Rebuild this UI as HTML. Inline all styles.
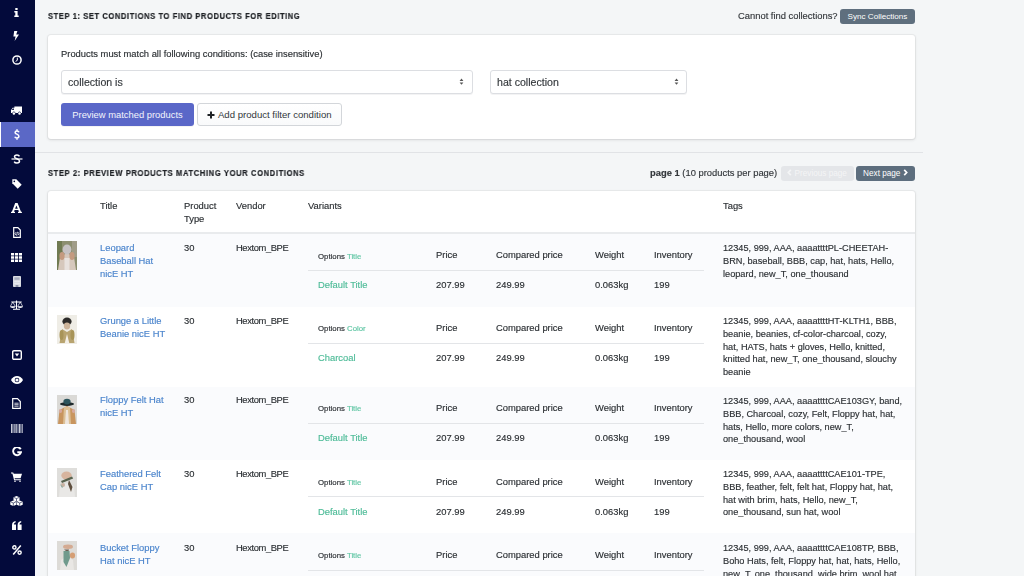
<!DOCTYPE html><html><head><meta charset="utf-8"><style>
*{margin:0;padding:0;box-sizing:border-box}
html,body{width:1024px;height:576px;overflow:hidden}
body{-webkit-text-stroke:0.15px currentColor;background:#f4f6f7;font-family:"Liberation Sans",sans-serif;color:#2b2f33;position:relative}
.abs{position:absolute;white-space:nowrap;will-change:transform}
#side{position:absolute;left:0;top:0;width:35px;height:576px;background:#030a3b}
#strip{position:absolute;left:35px;top:0;width:5px;height:576px;background:#f4f5fa}
.ic{position:absolute;left:0;width:33.6px;display:flex;align-items:center;justify-content:center}
.ic svg{display:block}
.card{position:absolute;background:#fff;border-radius:3px;box-shadow:0 0 0 1px rgba(63,63,68,.05),0 1px 3px 0 rgba(63,63,68,.15)}
.h{margin-top:0.5px;font-weight:bold;font-size:8.8px;letter-spacing:0.68px;transform:scaleX(0.86);transform-origin:0 0;-webkit-text-stroke:0.2px #1f2226;color:#1f2226}
.t{font-size:9.6px;color:#2b2f33}
.sel{position:absolute;background:#fff;border:1px solid #dcdee2;border-radius:3px;box-shadow:0 1px 0 rgba(22,29,37,.05)}
.btn{position:absolute;border-radius:3px;text-align:center;white-space:nowrap;-webkit-text-stroke:0}
.link{color:#3f7fcf}
.grn{color:#50b89a}
.thumb{position:absolute;width:20px;height:29px;overflow:hidden}.thumb svg{filter:blur(0.6px)}
</style></head><body>
<div id="side"></div><div id="strip"></div>
<div style="position:absolute;left:0;top:122px;width:35px;height:25px;background:#5b68c6"></div>
<div style="position:absolute;left:0;top:122px;width:1.3px;height:25px;background:#fff"></div>
<div class="ic" style="top:4.4px;height:16px"><svg width="5" height="9" viewBox="0 0 5 9"><rect x="1.3" y="0" width="2.3" height="2" fill="#fff"/><path d="M0.3 3h3.3v4.6h1.1V9H0.3V7.6h1V4.4h-1z" fill="#fff"/></svg></div>
<div class="ic" style="top:28.4px;height:16px"><svg width="7" height="10" viewBox="0 0 7 10"><path d="M1.2 0h3.2L3.2 3.6H6L1.6 10l1-4.6H0.4z" fill="#fff"/></svg></div>
<div class="ic" style="top:52.4px;height:16px"><svg width="10" height="10" viewBox="0 0 10 10"><circle cx="5" cy="5" r="4.1" fill="none" stroke="#fff" stroke-width="1.5"/><path d="M5.3 2.6v2.7L3.6 6.4" fill="none" stroke="#fff" stroke-width="1"/></svg></div>
<div class="ic" style="top:102.4px;height:16px"><svg width="11" height="9" viewBox="0 0 11 9"><path d="M3.4 0.4H11v6.6H10a1.5 1.5 0 0 0-3 0H4.4a1.5 1.5 0 0 0-3 0H0V4.2L1.6 1.8h1.8z" fill="#fff"/><circle cx="2.9" cy="7.4" r="1.25" fill="#fff"/><circle cx="8.5" cy="7.4" r="1.25" fill="#fff"/><path d="M0.8 4.1L1.9 2.5h1v1.6z" fill="#030a3b"/></svg></div>
<div class="ic" style="top:126.4px;height:16px"><svg width="6" height="11" viewBox="0 0 6 11"><path d="M5 3.2C4.7 2.4 3.9 2 3 2 1.9 2 1.1 2.6 1.1 3.4c0 2.2 3.8 1.3 3.8 3.9 0 1-0.8 1.7-2 1.7-1 0-1.8-0.5-2.1-1.3M3 0.2v1.8M3 9v1.8" fill="none" stroke="#fff" stroke-width="1.5"/></svg></div>
<div class="ic" style="top:151.4px;height:16px"><svg width="12" height="10" viewBox="0 0 12 10"><path d="M8.4 2.4C8 1.4 7.1 1 6 1 4.6 1 3.5 1.6 3.5 2.8c0 2.5 5 1.5 5 4.3 0 1.2-1 2-2.6 2-1.3 0-2.3-.6-2.7-1.5" fill="none" stroke="#fff" stroke-width="1.5"/><path d="M0.5 5h11" stroke="#fff" stroke-width="1.2"/></svg></div>
<div class="ic" style="top:176.4px;height:16px"><svg width="10" height="10" viewBox="0 0 10 10"><path d="M0.3 0.3h4l5.4 5.4-4 4L0.3 4.3z" fill="#fff"/><circle cx="2.3" cy="2.3" r="0.85" fill="#030a3b"/></svg></div>
<div class="ic" style="top:200.4px;height:16px"><svg width="11" height="10" viewBox="0 0 11 10"><path d="M4.2 0h2.4l3.4 8.8h0.9V10H7V8.8h1L7.3 7H3.6L3 8.8h1V10H0V8.8h0.9zM5.4 2.4L4.1 5.7h2.7z" fill="#fff"/></svg></div>
<div class="ic" style="top:224.4px;height:16px"><svg width="8" height="11" viewBox="0 0 8 11"><path d="M0.7 0.7h4.2L7.3 3.1v7.2H0.7z" fill="none" stroke="#fff" stroke-width="1.2"/><path d="M3 5.2L2 6.7 3 8.2M5 5.2l1 1.5L5 8.2M4.4 4.8L3.6 8.6" fill="none" stroke="#fff" stroke-width="0.8"/></svg></div>
<div class="ic" style="top:249.4px;height:16px"><svg width="11" height="9" viewBox="0 0 11 9"><g fill="#fff"><rect x="0" y="0" width="3.1" height="2.5"/><rect x="3.95" y="0" width="3.1" height="2.5"/><rect x="7.9" y="0" width="3.1" height="2.5"/><rect x="0" y="3.25" width="3.1" height="2.5"/><rect x="3.95" y="3.25" width="3.1" height="2.5"/><rect x="7.9" y="3.25" width="3.1" height="2.5"/><rect x="0" y="6.5" width="3.1" height="2.5"/><rect x="3.95" y="6.5" width="3.1" height="2.5"/><rect x="7.9" y="6.5" width="3.1" height="2.5"/></g></svg></div>
<div class="ic" style="top:273.4px;height:16px"><svg width="8" height="11" viewBox="0 0 8 11"><rect x="0" y="0" width="8" height="11" rx="0.8" fill="#d9dbe2"/><rect x="1.4" y="1.4" width="5.2" height="2.4" fill="#a5aabb"/><g fill="#eceef2"><rect x="1.4" y="5" width="1.4" height="1.2"/><rect x="3.3" y="5" width="1.4" height="1.2"/><rect x="5.2" y="5" width="1.4" height="1.2"/><rect x="1.4" y="7" width="1.4" height="1.2"/><rect x="3.3" y="7" width="1.4" height="1.2"/><rect x="5.2" y="7" width="1.4" height="1.2"/></g><rect x="2.6" y="9" width="2.8" height="2" fill="#8f95a8"/></svg></div>
<div class="ic" style="top:297.4px;height:16px"><svg width="13" height="10" viewBox="0 0 13 10"><path d="M6.5 0.5v8.5M3 9.3h7M1.3 2h10.4" stroke="#fff" stroke-width="1.1" fill="none"/><path d="M2.8 2L0.3 6.4M2.8 2l2.5 4.4M10.2 2L7.7 6.4M10.2 2l2.5 4.4" stroke="#fff" stroke-width="0.7" fill="none"/><path d="M0 6.3h5.6a2.8 1.8 0 0 1-5.6 0zM7.4 6.3h5.6a2.8 1.8 0 0 1-5.6 0z" fill="#fff"/></svg></div>
<div class="ic" style="top:347.0px;height:16px"><svg width="10" height="10" viewBox="0 0 10 10"><rect x="0.7" y="0.7" width="8.6" height="8.6" rx="1.2" fill="none" stroke="#fff" stroke-width="1.4"/><path d="M2.8 3.6h4.4L5 6.4z" fill="#fff"/></svg></div>
<div class="ic" style="top:372.09999999999997px;height:16px"><svg width="12" height="8" viewBox="0 0 12 8"><path d="M0 4C1.4 1.4 3.6 0 6 0s4.6 1.4 6 4c-1.4 2.6-3.6 4-6 4S1.4 6.6 0 4z" fill="#fff"/><circle cx="6" cy="4" r="2.3" fill="#030a3b"/><circle cx="6" cy="4" r="1.6" fill="#fff"/></svg></div>
<div class="ic" style="top:395.4px;height:16px"><svg width="9" height="11" viewBox="0 0 9 11"><path d="M0.7 0.7h4.8L8.3 3.5v6.8H0.7z" fill="none" stroke="#fff" stroke-width="1.2"/><path d="M2.4 5.2h4.2M2.4 6.7h4.2M2.4 8.2h4.2" stroke="#fff" stroke-width="0.8"/></svg></div>
<div class="ic" style="top:420.4px;height:16px"><svg width="12" height="9" viewBox="0 0 12 9"><g fill="#dfe1ea"><rect x="0" y="0" width="0.9" height="9"/><rect x="1.5" y="0" width="0.5" height="9"/><rect x="2.6" y="0" width="1" height="9"/><rect x="4.2" y="0" width="0.5" height="9"/><rect x="5.3" y="0" width="0.9" height="9"/><rect x="6.8" y="0" width="0.5" height="9"/><rect x="7.9" y="0" width="1" height="9"/><rect x="9.5" y="0" width="0.5" height="9"/><rect x="10.6" y="0" width="0.5" height="9"/><rect x="11.4" y="0" width="0.6" height="9"/></g></svg></div>
<div class="ic" style="top:444.4px;height:16px"><svg width="10" height="10" viewBox="0 0 10 10"><path d="M8.7 2.3A4 4 0 1 0 9 5.3H5.3" fill="none" stroke="#fff" stroke-width="1.9"/></svg></div>
<div class="ic" style="top:469.4px;height:16px"><svg width="11" height="10" viewBox="0 0 11 10"><path d="M0 0.4h2.2l0.5 1.4H11L9.6 6.2H3.6l0.3 1H9.8v1.1H3.1L1.4 1.5H0z" fill="#fff"/><circle cx="4" cy="9.2" r="0.8" fill="#fff"/><circle cx="9" cy="9.2" r="0.8" fill="#fff"/></svg></div>
<div class="ic" style="top:493.4px;height:16px"><svg width="13" height="10" viewBox="0 0 13 10"><g fill="#fff"><path d="M6.5 0l3 1.3v3.1L6.5 5.7 3.5 4.4V1.3z"/><path d="M3.3 4.4l3 1.3v3.1L3.3 10 0.3 8.8V5.7z"/><path d="M9.7 4.4l3 1.3v3.1L9.7 10 6.7 8.8V5.7z"/></g><g fill="none" stroke="#030a3b" stroke-width="0.6"><path d="M3.8 1.4l2.7 1.2 2.7-1.2M6.5 2.6v3"/><path d="M0.6 5.8l2.7 1.2 2.7-1.2M3.3 7v3"/><path d="M7 5.8l2.7 1.2 2.7-1.2M9.7 7v3"/></g></svg></div>
<div class="ic" style="top:517.4px;height:16px"><svg width="10" height="9" viewBox="0 0 10 9"><path d="M0 4.2C0 1.6 1.4 0.3 3.6 0v1.5C2.4 1.8 1.9 2.6 1.9 3.6H4V9H0zM5.6 4.2C5.6 1.6 7 0.3 9.2 0v1.5C8 1.8 7.5 2.6 7.5 3.6h2.1V9H5.6z" fill="#fff"/></svg></div>
<div class="ic" style="top:542.4px;height:16px"><svg width="10" height="10" viewBox="0 0 10 10"><circle cx="2.4" cy="2.4" r="1.6" fill="none" stroke="#fff" stroke-width="1.4"/><circle cx="7.6" cy="7.6" r="1.6" fill="none" stroke="#fff" stroke-width="1.4"/><path d="M8.8 0.6L1.2 9.4" stroke="#fff" stroke-width="1.5"/></svg></div>
<div class="abs h" style="left:48px;top:10px;line-height:10px">STEP 1: SET CONDITIONS TO FIND PRODUCTS FOR EDITING</div>
<div class="abs t" style="right:186.5px;top:10px;line-height:12px;font-size:9.4px;color:#33373b">Cannot find collections?</div>
<div class="btn" style="left:840px;top:9px;width:75px;height:15px;background:#5f6f7e;color:#fff;font-size:8.1px;line-height:16px">Sync Collections</div>
<div class="card" style="left:48px;top:35px;width:867px;height:104px"></div>
<div class="abs t" style="left:61px;top:48px;line-height:12px;font-size:9.4px">Products must match all following conditions: (case insensitive)</div>
<div class="sel" style="left:61px;top:70px;width:412px;height:24px"></div>
<div class="abs" style="left:68px;top:74.5px;line-height:14px;font-size:10.6px;color:#33373b">collection is</div>
<div class="abs" style="left:459.2px;top:78.2px;line-height:8px"><svg width="5" height="8" viewBox="0 0 5 8" style="display:block"><path d="M0.6 2.9L2.5 0.6 4.4 2.9zM0.6 4.4l1.9 2.3 1.9-2.3z" fill="#555"/></svg></div>
<div class="sel" style="left:490px;top:70px;width:197px;height:24px"></div>
<div class="abs" style="left:497px;top:74.5px;line-height:14px;font-size:10.6px;color:#33373b">hat collection</div>
<div class="abs" style="left:674.2px;top:78.2px;line-height:8px"><svg width="5" height="8" viewBox="0 0 5 8" style="display:block"><path d="M0.6 2.9L2.5 0.6 4.4 2.9zM0.6 4.4l1.9 2.3 1.9-2.3z" fill="#555"/></svg></div>
<div class="btn" style="left:61px;top:103px;width:133px;height:23px;background:#5a67c8;color:#f4f5fc;font-size:9.4px;line-height:24px;box-shadow:0 1px 0 0 rgba(22,29,37,.05)">Preview matched products</div>
<div class="btn" style="left:197px;top:103px;width:145px;height:23px;background:linear-gradient(#fff,#f9fafb);border:1px solid #d3d6da;color:#33373b;font-size:9.6px;line-height:21px"><svg width="8" height="8" viewBox="0 0 8 8" style="display:inline-block;vertical-align:-0.5px;margin-right:2.5px"><path d="M4 0.5v7M0.5 4h7" stroke="#1f2226" stroke-width="2"/></svg>Add product filter condition</div>
<div style="position:absolute;left:35px;top:152px;width:888px;height:1px;background:#e1e3e6"></div>
<div class="abs h" style="left:48px;top:167px;line-height:10px;letter-spacing:0.74px">STEP 2: PREVIEW PRODUCTS MATCHING YOUR CONDITIONS</div>
<div class="abs t" style="right:246.5px;top:167px;line-height:12.65px;font-size:9.4px;color:#33373b"><b>page 1</b> (10 products per page)</div>
<div class="btn" style="left:780.5px;top:165.5px;width:73px;height:15px;background:#e4e6e9;color:#f4f5f6;font-size:8.2px;line-height:15px"><svg width="5" height="7" viewBox="0 0 5 7" style="display:inline-block;vertical-align:-0.5px;margin-right:2.5px"><path d="M3.8 0.8L1.3 3.5l2.5 2.7" fill="none" stroke="#f4f5f6" stroke-width="1.7"/></svg>Previous page</div>
<div class="btn" style="left:856px;top:165.5px;width:59px;height:15px;background:#5d6e7e;color:#fff;font-size:8.2px;line-height:15px">Next page<svg width="5" height="7" viewBox="0 0 5 7" style="display:inline-block;vertical-align:-0.5px;margin-left:2.5px"><path d="M1.2 0.8L3.7 3.5 1.2 6.2" fill="none" stroke="#fff" stroke-width="1.7"/></svg></div>
<div class="card" style="left:48px;top:191px;width:867px;height:420px"></div>
<div class="abs" style="left:100px;top:199.70px;font-size:9.4px;line-height:12.8px;color:#2b2f33;">Title</div>
<div class="abs" style="left:183.7px;top:198.80px;font-size:9.4px;line-height:12.8px;color:#2b2f33;line-height:13.2px">Product<br>Type</div>
<div class="abs" style="left:235.6px;top:199.70px;font-size:9.4px;line-height:12.8px;color:#2b2f33;">Vendor</div>
<div class="abs" style="left:308px;top:199.70px;font-size:9.4px;line-height:12.8px;color:#2b2f33;">Variants</div>
<div class="abs" style="left:723.0px;top:199.70px;font-size:9.4px;line-height:12.8px;color:#2b2f33;">Tags</div>
<div style="position:absolute;left:48px;top:232px;width:867px;height:2px;background:#e9ebed"></div>
<div style="position:absolute;left:48px;top:234px;width:867px;height:72.7px;background:#fafbfd"></div>
<div style="position:absolute;left:48px;top:386.5px;width:867px;height:73.1px;background:#fafbfd"></div>
<div style="position:absolute;left:48px;top:532.7px;width:867px;height:43.3px;background:#fafbfd"></div>
<div class="thumb" style="left:57px;top:240.9px"><svg width="20" height="29" viewBox="0 0 20 29"><rect width="20" height="29" fill="#8c8e70"/><rect x="0" y="0" width="5" height="29" fill="#707a52"/><rect x="15" y="0" width="5" height="16" fill="#a09c88"/><path d="M1 29l2-13 7-4 7 4 2 13z" fill="#d6c8bc"/><ellipse cx="10" cy="8.5" rx="4.4" ry="5" fill="#c6c2c4"/><ellipse cx="5" cy="15" rx="2.6" ry="4" fill="#c49a80"/><ellipse cx="15" cy="15" rx="2.6" ry="4" fill="#c49a80"/><rect x="7.5" y="17" width="5" height="12" fill="#e8e2de"/></svg></div>
<div class="abs" style="left:100px;top:241.70px;font-size:9.4px;line-height:12.8px;color:#4a84cc;">Leopard<br>Baseball Hat<br>nicE HT</div>
<div class="abs" style="left:183.7px;top:241.70px;font-size:9.4px;line-height:12.8px;color:#2b2f33;">30</div>
<div class="abs" style="left:235.6px;top:241.70px;font-size:9.4px;line-height:12.8px;color:#2b2f33;letter-spacing:-0.4px">Hextom_BPE</div>
<div class="abs" style="left:317.8px;top:250.52px;font-size:7.8px;line-height:12.8px;color:#2b2f33;">Options <span style="color:#62c6a5">Title</span></div>
<div class="abs" style="left:436.3px;top:249.40px;font-size:9.4px;line-height:12.8px;color:#2b2f33;">Price</div>
<div class="abs" style="left:495.8px;top:249.40px;font-size:9.4px;line-height:12.8px;color:#2b2f33;">Compared price</div>
<div class="abs" style="left:594.5px;top:249.40px;font-size:9.4px;line-height:12.8px;color:#2b2f33;">Weight</div>
<div class="abs" style="left:653.7px;top:249.40px;font-size:9.4px;line-height:12.8px;color:#2b2f33;">Inventory</div>
<div style="position:absolute;left:308px;top:270.0px;width:396px;height:1px;background:#e3e5e8"></div>
<div class="abs" style="left:317.8px;top:279.10px;font-size:9.4px;line-height:12.8px;color:#4dbb97;">Default Title</div>
<div class="abs" style="left:436.3px;top:279.10px;font-size:9.4px;line-height:12.8px;color:#2b2f33;">207.99</div>
<div class="abs" style="left:495.8px;top:279.10px;font-size:9.4px;line-height:12.8px;color:#2b2f33;">249.99</div>
<div class="abs" style="left:594.5px;top:279.10px;font-size:9.4px;line-height:12.8px;color:#2b2f33;">0.063kg</div>
<div class="abs" style="left:653.7px;top:279.10px;font-size:9.4px;line-height:12.8px;color:#2b2f33;">199</div>
<div class="abs" style="left:723.0px;top:241.84px;font-size:9.2px;line-height:12.8px;color:#2b2f33;">12345, 999, AAA, aaaattttPL-CHEETAH-<br>BRN, baseball, BBB, cap, hat, hats, Hello,<br>leopard, new_T, one_thousand</div>
<div class="thumb" style="left:57px;top:314.5px"><svg width="20" height="29" viewBox="0 0 20 29"><rect width="20" height="29" fill="#efede6"/><ellipse cx="10" cy="6.5" rx="4.6" ry="4" fill="#2c2a28"/><ellipse cx="10" cy="11" rx="3.2" ry="3.4" fill="#cdb49a"/><path d="M2.5 28l2.5-14 5 3 5-3 2.5 14z" fill="#b8a470"/><path d="M7.5 29l2.5-10 2.5 10z" fill="#f4f0e8"/><ellipse cx="4.5" cy="20" rx="2" ry="5" fill="#a89458"/><ellipse cx="15.5" cy="20" rx="2" ry="5" fill="#a89458"/></svg></div>
<div class="abs" style="left:100px;top:314.50px;font-size:9.4px;line-height:12.8px;color:#4a84cc;">Grunge a Little<br>Beanie nicE HT</div>
<div class="abs" style="left:183.7px;top:314.50px;font-size:9.4px;line-height:12.8px;color:#2b2f33;">30</div>
<div class="abs" style="left:235.6px;top:314.50px;font-size:9.4px;line-height:12.8px;color:#2b2f33;letter-spacing:-0.4px">Hextom_BPE</div>
<div class="abs" style="left:317.8px;top:323.32px;font-size:7.8px;line-height:12.8px;color:#2b2f33;">Options <span style="color:#62c6a5">Color</span></div>
<div class="abs" style="left:436.3px;top:322.20px;font-size:9.4px;line-height:12.8px;color:#2b2f33;">Price</div>
<div class="abs" style="left:495.8px;top:322.20px;font-size:9.4px;line-height:12.8px;color:#2b2f33;">Compared price</div>
<div class="abs" style="left:594.5px;top:322.20px;font-size:9.4px;line-height:12.8px;color:#2b2f33;">Weight</div>
<div class="abs" style="left:653.7px;top:322.20px;font-size:9.4px;line-height:12.8px;color:#2b2f33;">Inventory</div>
<div style="position:absolute;left:308px;top:342.8px;width:396px;height:1px;background:#e3e5e8"></div>
<div class="abs" style="left:317.8px;top:351.90px;font-size:9.4px;line-height:12.8px;color:#4dbb97;">Charcoal</div>
<div class="abs" style="left:436.3px;top:351.90px;font-size:9.4px;line-height:12.8px;color:#2b2f33;">207.99</div>
<div class="abs" style="left:495.8px;top:351.90px;font-size:9.4px;line-height:12.8px;color:#2b2f33;">249.99</div>
<div class="abs" style="left:594.5px;top:351.90px;font-size:9.4px;line-height:12.8px;color:#2b2f33;">0.063kg</div>
<div class="abs" style="left:653.7px;top:351.90px;font-size:9.4px;line-height:12.8px;color:#2b2f33;">199</div>
<div class="abs" style="left:723.0px;top:314.64px;font-size:9.2px;line-height:12.8px;color:#2b2f33;">12345, 999, AAA, aaaattttHT-KLTH1, BBB,<br>beanie, beanies, cf-color-charcoal, cozy,<br>hat, HATS, hats + gloves, Hello, knitted,<br>knitted hat, new_T, one_thousand, slouchy<br>beanie</div>
<div class="thumb" style="left:57px;top:394.5px"><svg width="20" height="29" viewBox="0 0 20 29"><rect width="20" height="29" fill="#dad9d6"/><path d="M1 29l1.5-14 7.5-4 7.5 4 1.5 14z" fill="#c8955f"/><path d="M6 29l1-17h6l1 17z" fill="#dcc096"/><path d="M8 29l1-14h2l1 14z" fill="#efe6de"/><ellipse cx="10" cy="9" rx="7" ry="1.9" fill="#1e2a2c"/><ellipse cx="10" cy="6.6" rx="3.6" ry="2.8" fill="#2c545c"/><ellipse cx="3.5" cy="16" rx="1.6" ry="2" fill="#d6a9a0"/><ellipse cx="16.5" cy="16" rx="1.6" ry="2" fill="#d6a9a0"/></svg></div>
<div class="abs" style="left:100px;top:394.40px;font-size:9.4px;line-height:12.8px;color:#4a84cc;">Floppy Felt Hat<br>nicE HT</div>
<div class="abs" style="left:183.7px;top:394.40px;font-size:9.4px;line-height:12.8px;color:#2b2f33;">30</div>
<div class="abs" style="left:235.6px;top:394.40px;font-size:9.4px;line-height:12.8px;color:#2b2f33;letter-spacing:-0.4px">Hextom_BPE</div>
<div class="abs" style="left:317.8px;top:403.22px;font-size:7.8px;line-height:12.8px;color:#2b2f33;">Options <span style="color:#62c6a5">Title</span></div>
<div class="abs" style="left:436.3px;top:402.10px;font-size:9.4px;line-height:12.8px;color:#2b2f33;">Price</div>
<div class="abs" style="left:495.8px;top:402.10px;font-size:9.4px;line-height:12.8px;color:#2b2f33;">Compared price</div>
<div class="abs" style="left:594.5px;top:402.10px;font-size:9.4px;line-height:12.8px;color:#2b2f33;">Weight</div>
<div class="abs" style="left:653.7px;top:402.10px;font-size:9.4px;line-height:12.8px;color:#2b2f33;">Inventory</div>
<div style="position:absolute;left:308px;top:422.7px;width:396px;height:1px;background:#e3e5e8"></div>
<div class="abs" style="left:317.8px;top:431.80px;font-size:9.4px;line-height:12.8px;color:#4dbb97;">Default Title</div>
<div class="abs" style="left:436.3px;top:431.80px;font-size:9.4px;line-height:12.8px;color:#2b2f33;">207.99</div>
<div class="abs" style="left:495.8px;top:431.80px;font-size:9.4px;line-height:12.8px;color:#2b2f33;">249.99</div>
<div class="abs" style="left:594.5px;top:431.80px;font-size:9.4px;line-height:12.8px;color:#2b2f33;">0.063kg</div>
<div class="abs" style="left:653.7px;top:431.80px;font-size:9.4px;line-height:12.8px;color:#2b2f33;">199</div>
<div class="abs" style="left:723.0px;top:394.54px;font-size:9.2px;line-height:12.8px;color:#2b2f33;">12345, 999, AAA, aaaattttCAE103GY, band,<br>BBB, Charcoal, cozy, Felt, Floppy hat, hat,<br>hats, Hello, more colors, new_T,<br>one_thousand, wool</div>
<div class="thumb" style="left:57px;top:467.9px"><svg width="20" height="29" viewBox="0 0 20 29"><rect width="20" height="29" fill="#dfdedb"/><path d="M2 29l1-11 7-3 7 3 1 11z" fill="#e9e8e6"/><ellipse cx="9.5" cy="7.5" rx="5.2" ry="4" fill="#d7b49e"/><path d="M4 13L15 8.5l1.2 2L5 15z" fill="#57624e"/><path d="M12 12l3.5 7-1.5 5-3-8z" fill="#5e4e3e"/><ellipse cx="6" cy="17" rx="2" ry="2" fill="#c8b0a0"/><path d="M3 16l2 4 1-1z" fill="#7fa39a"/></svg></div>
<div class="abs" style="left:100px;top:468.10px;font-size:9.4px;line-height:12.8px;color:#4a84cc;">Feathered Felt<br>Cap nicE HT</div>
<div class="abs" style="left:183.7px;top:468.10px;font-size:9.4px;line-height:12.8px;color:#2b2f33;">30</div>
<div class="abs" style="left:235.6px;top:468.10px;font-size:9.4px;line-height:12.8px;color:#2b2f33;letter-spacing:-0.4px">Hextom_BPE</div>
<div class="abs" style="left:317.8px;top:476.92px;font-size:7.8px;line-height:12.8px;color:#2b2f33;">Options <span style="color:#62c6a5">Title</span></div>
<div class="abs" style="left:436.3px;top:475.80px;font-size:9.4px;line-height:12.8px;color:#2b2f33;">Price</div>
<div class="abs" style="left:495.8px;top:475.80px;font-size:9.4px;line-height:12.8px;color:#2b2f33;">Compared price</div>
<div class="abs" style="left:594.5px;top:475.80px;font-size:9.4px;line-height:12.8px;color:#2b2f33;">Weight</div>
<div class="abs" style="left:653.7px;top:475.80px;font-size:9.4px;line-height:12.8px;color:#2b2f33;">Inventory</div>
<div style="position:absolute;left:308px;top:496.4px;width:396px;height:1px;background:#e3e5e8"></div>
<div class="abs" style="left:317.8px;top:505.50px;font-size:9.4px;line-height:12.8px;color:#4dbb97;">Default Title</div>
<div class="abs" style="left:436.3px;top:505.50px;font-size:9.4px;line-height:12.8px;color:#2b2f33;">207.99</div>
<div class="abs" style="left:495.8px;top:505.50px;font-size:9.4px;line-height:12.8px;color:#2b2f33;">249.99</div>
<div class="abs" style="left:594.5px;top:505.50px;font-size:9.4px;line-height:12.8px;color:#2b2f33;">0.063kg</div>
<div class="abs" style="left:653.7px;top:505.50px;font-size:9.4px;line-height:12.8px;color:#2b2f33;">199</div>
<div class="abs" style="left:723.0px;top:468.24px;font-size:9.2px;line-height:12.8px;color:#2b2f33;">12345, 999, AAA, aaaattttCAE101-TPE,<br>BBB, feather, felt, felt hat, Floppy hat, hat,<br>hat with brim, hats, Hello, new_T,<br>one_thousand, sun hat, wool</div>
<div class="thumb" style="left:57px;top:540.9px"><svg width="20" height="29" viewBox="0 0 20 29"><rect width="20" height="29" fill="#dddbd7"/><path d="M3 29l1-10 6-4 6 4 1 10z" fill="#e9e7e4"/><ellipse cx="11" cy="5.8" rx="5" ry="2.2" fill="#d4ab92"/><path d="M7 8.5h5l-1 3z" fill="#6a5e52"/><path d="M6.5 10h6l0.5 7-3.5 9-3-5z" fill="#709a8c"/><ellipse cx="15.5" cy="14.5" rx="2.6" ry="3" fill="#d59e74"/></svg></div>
<div class="abs" style="left:100px;top:541.50px;font-size:9.4px;line-height:12.8px;color:#4a84cc;">Bucket Floppy<br>Hat nicE HT</div>
<div class="abs" style="left:183.7px;top:541.50px;font-size:9.4px;line-height:12.8px;color:#2b2f33;">30</div>
<div class="abs" style="left:235.6px;top:541.50px;font-size:9.4px;line-height:12.8px;color:#2b2f33;letter-spacing:-0.4px">Hextom_BPE</div>
<div class="abs" style="left:317.8px;top:550.32px;font-size:7.8px;line-height:12.8px;color:#2b2f33;">Options <span style="color:#62c6a5">Title</span></div>
<div class="abs" style="left:436.3px;top:549.20px;font-size:9.4px;line-height:12.8px;color:#2b2f33;">Price</div>
<div class="abs" style="left:495.8px;top:549.20px;font-size:9.4px;line-height:12.8px;color:#2b2f33;">Compared price</div>
<div class="abs" style="left:594.5px;top:549.20px;font-size:9.4px;line-height:12.8px;color:#2b2f33;">Weight</div>
<div class="abs" style="left:653.7px;top:549.20px;font-size:9.4px;line-height:12.8px;color:#2b2f33;">Inventory</div>
<div style="position:absolute;left:308px;top:569.8px;width:396px;height:1px;background:#e3e5e8"></div>
<div class="abs" style="left:317.8px;top:578.90px;font-size:9.4px;line-height:12.8px;color:#4dbb97;">Default Title</div>
<div class="abs" style="left:436.3px;top:578.90px;font-size:9.4px;line-height:12.8px;color:#2b2f33;">207.99</div>
<div class="abs" style="left:495.8px;top:578.90px;font-size:9.4px;line-height:12.8px;color:#2b2f33;">249.99</div>
<div class="abs" style="left:594.5px;top:578.90px;font-size:9.4px;line-height:12.8px;color:#2b2f33;">0.063kg</div>
<div class="abs" style="left:653.7px;top:578.90px;font-size:9.4px;line-height:12.8px;color:#2b2f33;">199</div>
<div class="abs" style="left:723.0px;top:541.64px;font-size:9.2px;line-height:12.8px;color:#2b2f33;">12345, 999, AAA, aaaattttCAE108TP, BBB,<br>Boho Hats, felt, Floppy hat, hat, hats, Hello,<br>new_T, one_thousand, wide brim, wool hat</div>
</body></html>
